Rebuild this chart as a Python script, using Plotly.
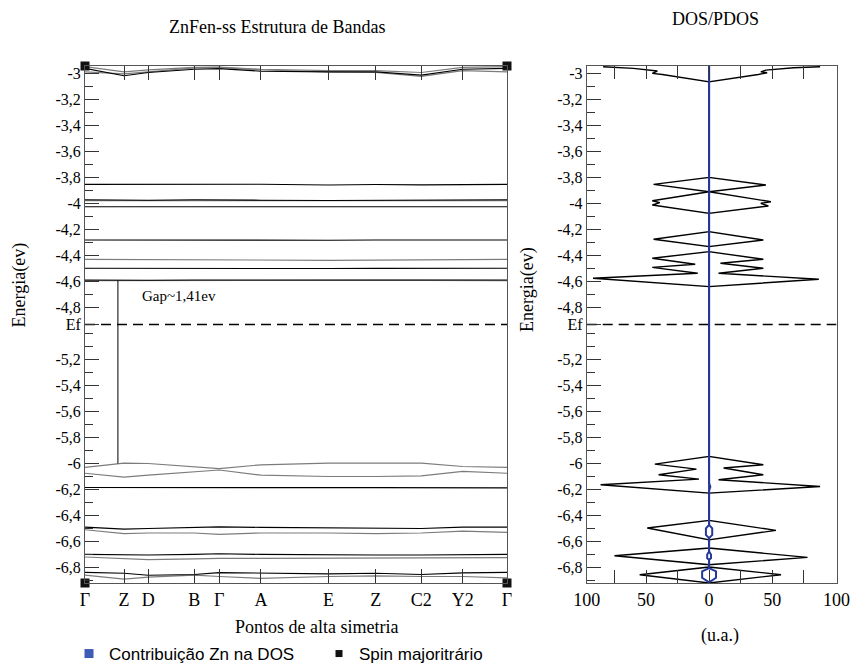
import plotly.graph_objects as go

# ---------------------------------------------------------------
# Data
# ---------------------------------------------------------------
# High-symmetry path (normalised k distance) and its labels
k_points = [0.0, 0.0925, 0.150, 0.259, 0.318, 0.417, 0.577, 0.689, 0.797, 0.895, 1.0]
k_labels = ["Γ", "Z", "D", "B", "Γ", "A", "E", "Z", "C2", "Y2", "Γ"]

# Band energies (eV) at each k point, majority spin (black)
bands_major = [
    [-2.958, -3.015, -2.990, -2.965, -2.960, -2.980, -2.985, -2.985, -3.010, -2.965, -2.958],
    [-3.851, -3.851, -3.850, -3.848, -3.847, -3.850, -3.856, -3.852, -3.855, -3.851, -3.851],
    [-3.970, -3.972, -3.974, -3.970, -3.969, -3.973, -3.975, -3.974, -3.975, -3.970, -3.970],
    [-4.023, -4.023, -4.024, -4.023, -4.022, -4.023, -4.025, -4.023, -4.024, -4.023, -4.023],
    [-4.279, -4.280, -4.280, -4.279, -4.278, -4.280, -4.281, -4.280, -4.280, -4.279, -4.279],
    [-4.497, -4.498, -4.498, -4.497, -4.496, -4.497, -4.499, -4.498, -4.498, -4.497, -4.497],
    [-4.588, -4.590, -4.589, -4.587, -4.586, -4.587, -4.588, -4.587, -4.588, -4.587, -4.588],
    [-6.185, -6.186, -6.187, -6.188, -6.188, -6.187, -6.186, -6.186, -6.187, -6.188, -6.188],
    [-6.490, -6.505, -6.500, -6.490, -6.488, -6.492, -6.495, -6.497, -6.500, -6.490, -6.490],
    [-6.700, -6.705, -6.705, -6.700, -6.695, -6.700, -6.705, -6.705, -6.705, -6.700, -6.700],
    [-6.838, -6.845, -6.860, -6.855, -6.840, -6.845, -6.850, -6.845, -6.855, -6.842, -6.838],
]

# Band energies (eV) at each k point, minority spin (grey)
bands_minor = [
    [-2.945, -2.985, -2.970, -2.950, -2.948, -2.965, -2.975, -2.975, -2.990, -2.950, -2.945],
    [-2.985, -3.000, -2.985, -2.955, -2.950, -2.970, -2.985, -2.990, -3.020, -2.975, -2.985],
    [-3.976, -3.976, -3.977, -3.976, -3.975, -3.976, -3.977, -3.976, -3.977, -3.976, -3.976],
    [-4.428, -4.430, -4.432, -4.434, -4.435, -4.436, -4.436, -4.434, -4.432, -4.430, -4.428],
    [-4.593, -4.592, -4.592, -4.591, -4.590, -4.590, -4.590, -4.590, -4.591, -4.592, -4.593],
    [-6.030, -5.997, -6.000, -6.023, -6.040, -6.010, -5.997, -5.997, -5.997, -6.023, -6.030],
    [-6.075, -6.105, -6.090, -6.061, -6.050, -6.090, -6.100, -6.100, -6.095, -6.061, -6.075],
    [-6.510, -6.540, -6.535, -6.535, -6.545, -6.535, -6.535, -6.540, -6.535, -6.520, -6.530],
    [-6.720, -6.735, -6.740, -6.735, -6.730, -6.730, -6.730, -6.730, -6.730, -6.725, -6.725],
    [-6.860, -6.890, -6.875, -6.860, -6.870, -6.885, -6.870, -6.865, -6.870, -6.870, -6.880],
]

# Fermi level and gap marker
e_fermi = -4.93
gap_k = 0.078
gap_top = -4.59
gap_bottom = -6.0

# Total DOS, spin up (drawn to the right)
dos_up_energy = [-2.946, -2.954, -2.972, -2.985, -2.992, -3.005, -3.062, -3.797, -3.856, -3.908,
                 -3.985, -3.997, -4.018, -4.074, -4.215, -4.279, -4.330, -4.369, -4.428, -4.459,
                 -4.497, -4.535, -4.582, -4.638, -5.946, -6.010, -6.035, -6.087, -6.125, -6.177,
                 -6.228, -6.438, -6.515, -6.587, -6.651, -6.723, -6.779, -6.797, -6.856, -6.920]
dos_up = [88, 67, 45, 41, 46, 39, 0, 0, 45, 0,
          49, 41, 47, 0, 0, 43, 0, 0, 43, 9,
          43, 7.5, 87, 0, 0, 43, 11.5, 43, 7.5, 88,
          0, 0, 53, 0, 0, 78, 0, 0, 57, 0]

# Total DOS, spin down (drawn to the left)
dos_dn_energy = [-2.946, -2.958, -2.979, -2.997, -3.005, -3.062, -3.797, -3.851, -3.908, -3.977,
                 -3.992, -4.010, -4.074, -4.215, -4.274, -4.330, -4.369, -4.420, -4.466, -4.490,
                 -4.535, -4.574, -4.638, -5.946, -6.005, -6.043, -6.087, -6.120, -6.164, -6.228,
                 -6.438, -6.497, -6.587, -6.651, -6.710, -6.779, -6.797, -6.856, -6.920]
dos_dn = [84, 60, 41, 45, 37, 0, 0, 44, 0, 45,
          39, 45, 0, 0, 44, 0, 0, 45, 11, 45,
          9, 92, 0, 0, 43, 10, 40, 8, 86, 0,
          0, 49, 0, 0, 75, 0, 0, 55, 0]

# Zn projected DOS (spin up / spin down)
zn_energy = [-2.94, -6.15, -6.18, -6.21, -6.472, -6.50, -6.55, -6.574, -6.677, -6.70, -6.73,
             -6.741, -6.805, -6.83, -6.88, -6.915]
zn_up = [0, 0, 1.0, 0, 0, 2.5, 2.5, 0, 0, 1.5, 1.5, 0, 0, 5.5, 5.5, 0]
zn_dn = [0, 0, 0.5, 0, 0, 2.5, 2.5, 0, 0, 1.5, 1.5, 0, 0, 5.5, 5.5, 0]

# Energy axis
e_range = [-6.92, -2.94]
e_major = [-3.0, -3.2, -3.4, -3.6, -3.8, -4.0, -4.2, -4.4, -4.6, -4.8, e_fermi,
           -5.2, -5.4, -5.6, -5.8, -6.0, -6.2, -6.4, -6.6, -6.8]
e_major_text = ["-3", "-3,2", "-3,4", "-3,6", "-3,8", "-4", "-4,2", "-4,4", "-4,6", "-4,8", "Ef",
                "-5,2", "-5,4", "-5,6", "-5,8", "-6", "-6,2", "-6,4", "-6,6", "-6,8"]
e_minor = [-3.1, -3.3, -3.5, -3.7, -3.9, -4.1, -4.3, -4.5, -4.7, -5.0, -5.1,
           -5.3, -5.5, -5.7, -5.9, -6.1, -6.3, -6.5, -6.7, -6.9]

# DOS axis
dos_range = [-97, 101]
dos_ticks = [-97, -75, -50, -25, 0, 25, 50, 75, 101]
dos_tick_text = ["100", "", "50", "", "0", "", "50", "", "100"]

# ---------------------------------------------------------------
# Styling
# ---------------------------------------------------------------
SERIF = "Liberation Serif"
SANS = "Liberation Sans"
BLACK = "#000000"
GREY = "#7c7c7c"
BLUE = "#24389a"
FRAME = "#555555"
W, H = 853, 666


def px_x(px):
    return px / W


def px_y(py):
    return 1 - py / H


fig = go.Figure()

# Band structure
for band in bands_minor:
    fig.add_trace(go.Scatter(x=k_points, y=band, mode="lines",
                             line=dict(color=GREY, width=1.2),
                             showlegend=False, hoverinfo="skip", xaxis="x", yaxis="y"))
for band in bands_major:
    fig.add_trace(go.Scatter(x=k_points, y=band, mode="lines",
                             line=dict(color=BLACK, width=1.1),
                             showlegend=False, hoverinfo="skip", xaxis="x", yaxis="y"))

# Fermi level and gap indicator on the band panel
fig.add_trace(go.Scatter(x=[k_points[0], k_points[-1]], y=[e_fermi, e_fermi], mode="lines",
                         line=dict(color=BLACK, width=1.6, dash="10px,6px"),
                         showlegend=False, hoverinfo="skip", xaxis="x", yaxis="y"))
fig.add_trace(go.Scatter(x=[gap_k, gap_k], y=[gap_top, gap_bottom], mode="lines",
                         line=dict(color=BLACK, width=1),
                         showlegend=False, hoverinfo="skip", xaxis="x", yaxis="y"))

# Corner markers of the band panel
fig.add_trace(go.Scatter(x=[k_points[0], k_points[-1], k_points[0], k_points[-1]],
                         y=[e_range[1], e_range[1], e_range[0], e_range[0]],
                         mode="markers", marker=dict(symbol="square", size=9, color="#111111"),
                         cliponaxis=False, showlegend=False, hoverinfo="skip",
                         xaxis="x", yaxis="y"))

# Total DOS (mirrored spins)
fig.add_trace(go.Scatter(x=dos_up, y=dos_up_energy, mode="lines",
                         line=dict(color=BLACK, width=1.4),
                         showlegend=False, hoverinfo="skip", xaxis="x2", yaxis="y2"))
fig.add_trace(go.Scatter(x=[-v for v in dos_dn], y=dos_dn_energy, mode="lines",
                         line=dict(color=BLACK, width=1.4),
                         showlegend=False, hoverinfo="skip", xaxis="x2", yaxis="y2"))

# Fermi level on DOS panel
fig.add_trace(go.Scatter(x=dos_range, y=[e_fermi, e_fermi], mode="lines",
                         line=dict(color=BLACK, width=1.6, dash="10px,6px"),
                         showlegend=False, hoverinfo="skip", xaxis="x2", yaxis="y2"))

# Zn projected DOS
fig.add_trace(go.Scatter(x=zn_up, y=zn_energy, mode="lines",
                         line=dict(color=BLUE, width=2),
                         showlegend=False, hoverinfo="skip", xaxis="x2", yaxis="y2"))
fig.add_trace(go.Scatter(x=[-v for v in zn_dn], y=zn_energy, mode="lines",
                         line=dict(color=BLUE, width=2),
                         showlegend=False, hoverinfo="skip", xaxis="x2", yaxis="y2"))

# Legend entries
fig.add_trace(go.Scatter(x=[None], y=[None], mode="markers", name="Contribuição Zn na DOS",
                         marker=dict(symbol="square", size=9, color="#3f5bb8"),
                         xaxis="x2", yaxis="y2"))
fig.add_trace(go.Scatter(x=[None], y=[None], mode="markers", name="Spin majoritrário",
                         marker=dict(symbol="square", size=7, color="#111111"),
                         xaxis="x", yaxis="y"))

x_tick_font = dict(family=SERIF, size=18, color=BLACK)
y_tick_font = dict(family=SERIF, size=16, color=BLACK)

y_common = dict(
    range=e_range, tickmode="array", tickvals=e_major, ticktext=e_major_text,
    ticks="inside", ticklen=14, tickwidth=1, tickcolor="#333333",
    minor=dict(tickmode="array", tickvals=e_minor, ticks="inside", ticklen=8,
               tickwidth=1, tickcolor="#333333"),
    showline=True, linecolor=FRAME, linewidth=1, mirror=True,
    showgrid=False, zeroline=False, automargin=False,
    tickfont=y_tick_font,
    domain=[px_y(583), px_y(66)],
)


def label(text, x, y, size=18, family=SERIF, **kw):
    return dict(text=text, x=px_x(x), y=px_y(y), xref="paper", yref="paper",
                xanchor=kw.pop("xanchor", "center"), yanchor="middle",
                showarrow=False, font=dict(family=family, size=size, color=BLACK), **kw)


fig.update_layout(
    width=W, height=H,
    margin=dict(l=0, r=0, t=0, b=0, autoexpand=False),
    paper_bgcolor="white", plot_bgcolor="white",
    xaxis=dict(
        domain=[px_x(85), px_x(507)], range=[k_points[0], k_points[-1]],
        tickmode="array", tickvals=k_points, ticktext=k_labels,
        ticks="inside", ticklen=14, tickwidth=1, tickcolor="#333333",
        showline=True, linecolor=FRAME, linewidth=1, mirror="ticks",
        showgrid=False, zeroline=False, automargin=False,
        tickfont=x_tick_font,
    ),
    yaxis=dict(anchor="x", **y_common),
    xaxis2=dict(
        domain=[px_x(586.7), px_x(836.5)], range=dos_range,
        tickmode="array", tickvals=dos_ticks, ticktext=dos_tick_text,
        ticks="inside", ticklen=13, tickwidth=1, tickcolor="#333333",
        showline=True, linecolor=FRAME, linewidth=1, mirror="ticks",
        showgrid=False, zeroline=False, automargin=False,
        tickfont=x_tick_font,
    ),
    yaxis2=dict(anchor="x2", **y_common),
    legend=dict(
        orientation="h", x=px_x(69), y=-6 / H, xanchor="left", yanchor="bottom",
        font=dict(family=SANS, size=17, color=BLACK),
        entrywidth=205, entrywidthmode="pixels",
        bgcolor="rgba(0,0,0,0)", itemclick=False, itemdoubleclick=False,
    ),
    showlegend=True,
    annotations=[
        label("ZnFen-ss Estrutura de Bandas", 277, 27),
        label("DOS/PDOS", 715, 18.5),
        label("Energia(ev)", 18.5, 285, textangle=-90),
        label("Energia(ev)", 527, 290, textangle=-90),
        label("Pontos de alta simetria", 316, 627),
        label("(u.a.)", 720, 635),
        label("Gap~1,41ev", 140, 296, size=15, xanchor="left"),
    ],
)

fig.write_html("out.html")
